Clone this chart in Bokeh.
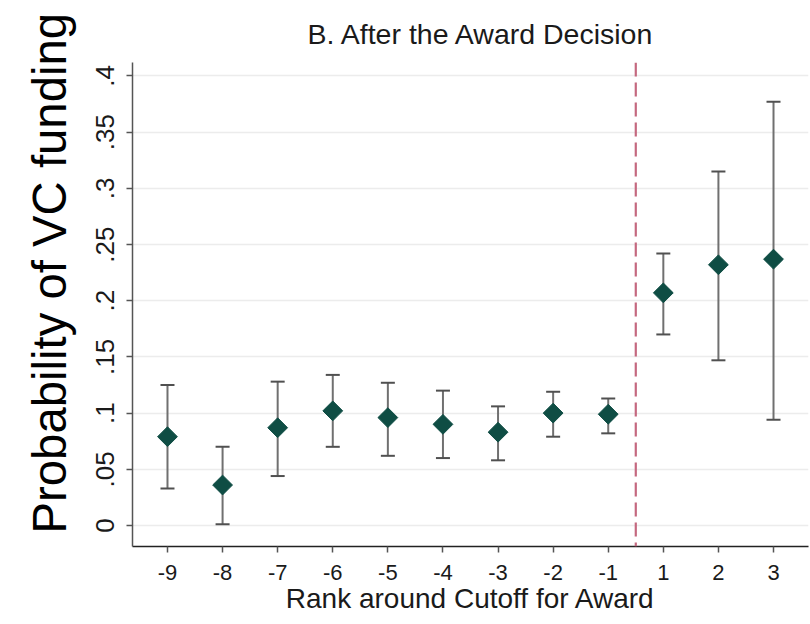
import math
from bokeh.plotting import figure
from bokeh.models import ColumnDataSource, Whisker, TeeHead, Span, FixedTicker, Range1d, Title
from bokeh.embed import file_html
from bokeh.resources import INLINE

# ---- data ----
ranks = [-9, -8, -7, -6, -5, -4, -3, -2, -1, 1, 2, 3]
prob = [0.079, 0.036, 0.087, 0.102, 0.096, 0.090, 0.083, 0.100, 0.099, 0.207, 0.232, 0.237]
upper = [0.125, 0.070, 0.128, 0.134, 0.127, 0.120, 0.106, 0.119, 0.113, 0.242, 0.315, 0.377]
lower = [0.033, 0.001, 0.044, 0.070, 0.062, 0.060, 0.058, 0.079, 0.082, 0.170, 0.147, 0.094]
y_ticks = [0, 0.05, 0.1, 0.15, 0.2, 0.25, 0.3, 0.35, 0.4]
y_tick_labels = ["0", ".05", ".1", ".15", ".2", ".25", ".3", ".35", ".4"]
cutoff = -0.5  # between rank -1 and rank 1 (no rank 0)

# ranks have no 0, so ranks above the cutoff are shifted one step left
pos = [r if r < 0 else r - 1 for r in ranks]

src = ColumnDataSource(dict(pos=pos, prob=prob, upper=upper, lower=lower))

FONT = "Liberation Sans"

p = figure(width=810, height=624, output_backend="svg", toolbar_location=None,
           x_range=Range1d(-9.635, 2.635), y_range=Range1d(-0.0187, 0.412),
           min_border_left=132, min_border_top=62, min_border_bottom=78, min_border_right=2)
p.outline_line_color = None
p.background_fill_color = "white"
p.border_fill_color = "white"

# title
p.title.text = "B. After the Award Decision"
p.title.align = "left"
p.title.text_font = FONT
p.title.text_font_size = "28.5px"
p.title.text_font_style = "normal"
p.title.text_color = "#1a1a1a"
p.title.offset = 175
p.title.standoff = 25

# grid
p.xgrid.visible = False
p.ygrid.ticker = FixedTicker(ticks=y_ticks)
p.ygrid.grid_line_color = "#ececec"
p.ygrid.grid_line_width = 1.5

# x axis
p.xaxis.ticker = FixedTicker(ticks=pos)
p.xaxis.major_label_overrides = {pp: str(r) for pp, r in zip(pos, ranks)}
p.xaxis.axis_label = "Rank around Cutoff for Award"
p.xaxis.axis_label_text_font = FONT
p.xaxis.axis_label_text_font_size = "28px"
p.xaxis.axis_label_text_font_style = "normal"
p.xaxis.axis_label_text_color = "#1a1a1a"
p.xaxis.axis_label_standoff = 0
p.xaxis.major_label_text_font = FONT
p.xaxis.major_label_text_font_size = "22px"
p.xaxis.major_label_text_color = "#1a1a1a"
p.xaxis.major_label_standoff = 12
p.xaxis.axis_line_color = "#222222"
p.xaxis.axis_line_width = 1.5
p.xaxis.major_tick_line_color = "#555555"
p.xaxis.major_tick_line_width = 1.5
p.xaxis.major_tick_out = 6
p.xaxis.major_tick_in = 0
p.xaxis.minor_tick_line_color = None

# y axis
p.yaxis.ticker = FixedTicker(ticks=y_ticks)
p.yaxis.major_label_overrides = dict(zip(y_ticks, y_tick_labels))
p.yaxis.major_label_orientation = "vertical"
p.yaxis.major_label_text_font = FONT
p.yaxis.major_label_text_font_size = "26px"
p.yaxis.major_label_text_color = "#1a1a1a"
p.yaxis.major_label_standoff = 12
p.yaxis.axis_line_color = "#555555"
p.yaxis.axis_line_width = 1.5
p.yaxis.major_tick_line_color = "#555555"
p.yaxis.major_tick_line_width = 1.5
p.yaxis.major_tick_out = 6
p.yaxis.major_tick_in = 0
p.yaxis.minor_tick_line_color = None

# y-axis title as a left-side title (sits higher than the frame centre)
p.add_layout(Title(text="Probability of VC funding", align="left", offset=13,
                   standoff=36, text_font=FONT, text_font_size="47.3px",
                   text_font_style="normal", text_color="#000000"), "left")

# cutoff line
p.add_layout(Span(location=cutoff, dimension="height", line_color="#c4687f",
                  line_width=2.2, line_dash="14 6"))

# error bars
whisk = Whisker(base="pos", upper="upper", lower="lower", source=src,
                line_color="#707070", line_width=2,
                upper_head=TeeHead(size=14, line_color="#505050", line_width=2),
                lower_head=TeeHead(size=14, line_color="#505050", line_width=2))
p.add_layout(whisk)

# point estimates
p.scatter("pos", "prob", source=src, marker="square", angle=math.pi / 4, size=14,
          fill_color="#0f4d44", line_color="#0f4d44")

open("out.html", "w").write(file_html(p, INLINE))
